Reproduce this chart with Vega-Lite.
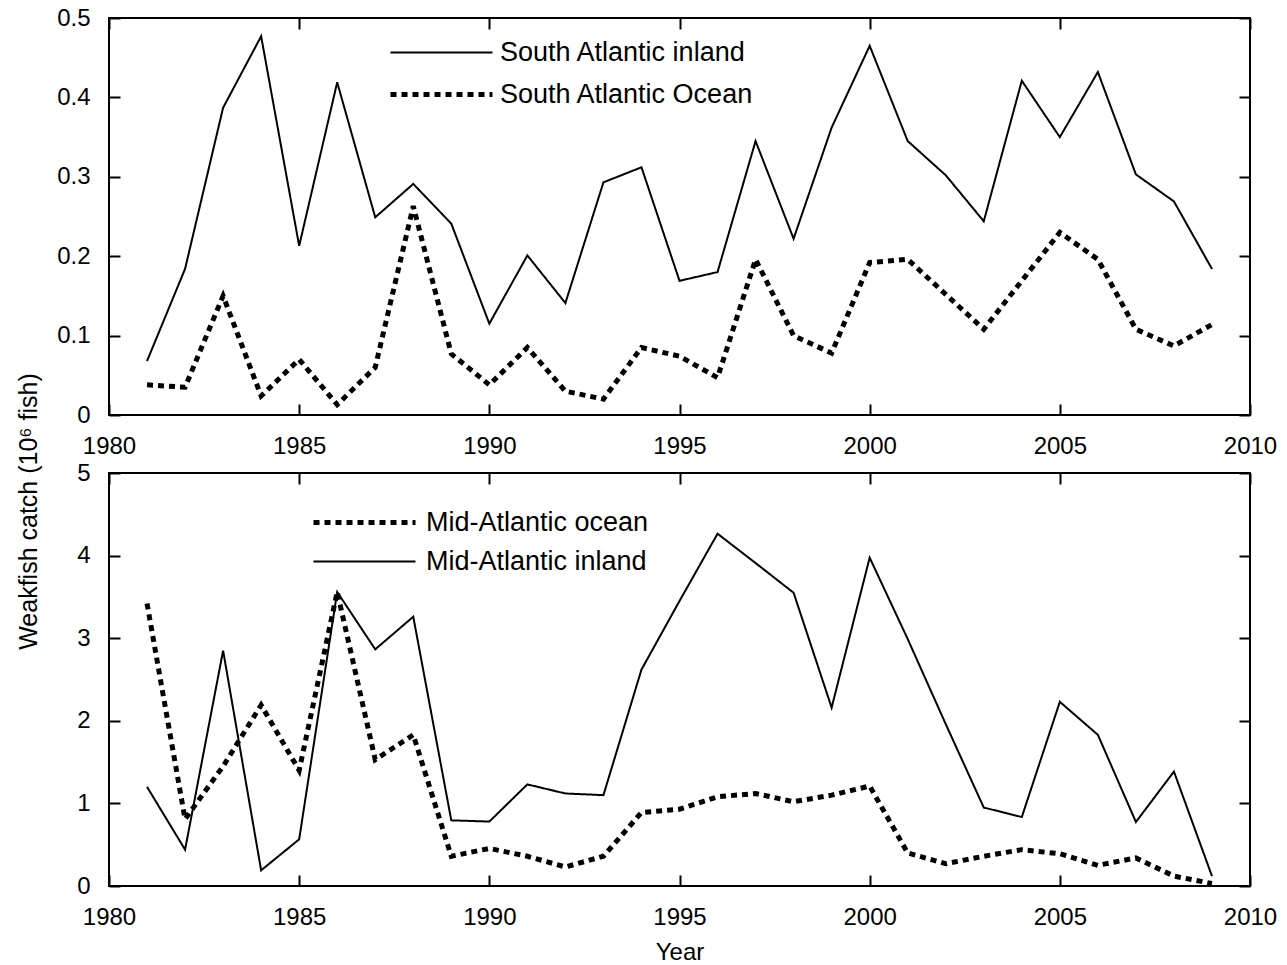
{
  "$schema": "https://vega.github.io/schema/vega-lite/v6.json",
  "padding": {"left": 15, "top": 5, "right": 5, "bottom": 5},
  "background": "white",
  "config": {
    "font": "Liberation Sans",
    "view": {"stroke": "black", "strokeWidth": 2},
    "axis": {
      "labelFont": "Liberation Sans", "labelFontSize": 24, "labelColor": "black",
      "titleFont": "Liberation Sans", "titleFontSize": 24, "titleFontWeight": "normal", "titleColor": "black",
      "tickColor": "black", "tickWidth": 2, "tickSize": -11, "domain": false, "grid": false,
      "labelPadding": 30, "labelFlush": false, "labelOverlap": false
    },
    "legend": {
      "labelFont": "Liberation Sans", "labelFontSize": 27, "labelColor": "black", "labelLimit": 0,
      "symbolType": "M-5,0H5", "symbolStrokeColor": "black", "symbolSize": 416,
      "padding": 0, "title": null, "orient": "none"
    }
  },
  "datasets": {
    "south": [
      {"year": 1981, "series": "South Atlantic inland", "catch": 0.068},
      {"year": 1982, "series": "South Atlantic inland", "catch": 0.184},
      {"year": 1983, "series": "South Atlantic inland", "catch": 0.387},
      {"year": 1984, "series": "South Atlantic inland", "catch": 0.477},
      {"year": 1985, "series": "South Atlantic inland", "catch": 0.213},
      {"year": 1986, "series": "South Atlantic inland", "catch": 0.419},
      {"year": 1987, "series": "South Atlantic inland", "catch": 0.249},
      {"year": 1988, "series": "South Atlantic inland", "catch": 0.291},
      {"year": 1989, "series": "South Atlantic inland", "catch": 0.241},
      {"year": 1990, "series": "South Atlantic inland", "catch": 0.115},
      {"year": 1991, "series": "South Atlantic inland", "catch": 0.201},
      {"year": 1992, "series": "South Atlantic inland", "catch": 0.141},
      {"year": 1993, "series": "South Atlantic inland", "catch": 0.293},
      {"year": 1994, "series": "South Atlantic inland", "catch": 0.312},
      {"year": 1995, "series": "South Atlantic inland", "catch": 0.169},
      {"year": 1996, "series": "South Atlantic inland", "catch": 0.180},
      {"year": 1997, "series": "South Atlantic inland", "catch": 0.345},
      {"year": 1998, "series": "South Atlantic inland", "catch": 0.222},
      {"year": 1999, "series": "South Atlantic inland", "catch": 0.362},
      {"year": 2000, "series": "South Atlantic inland", "catch": 0.465},
      {"year": 2001, "series": "South Atlantic inland", "catch": 0.345},
      {"year": 2002, "series": "South Atlantic inland", "catch": 0.302},
      {"year": 2003, "series": "South Atlantic inland", "catch": 0.244},
      {"year": 2004, "series": "South Atlantic inland", "catch": 0.421},
      {"year": 2005, "series": "South Atlantic inland", "catch": 0.350},
      {"year": 2006, "series": "South Atlantic inland", "catch": 0.432},
      {"year": 2007, "series": "South Atlantic inland", "catch": 0.303},
      {"year": 2008, "series": "South Atlantic inland", "catch": 0.269},
      {"year": 2009, "series": "South Atlantic inland", "catch": 0.184},
      {"year": 1981, "series": "South Atlantic Ocean", "catch": 0.038},
      {"year": 1982, "series": "South Atlantic Ocean", "catch": 0.035},
      {"year": 1983, "series": "South Atlantic Ocean", "catch": 0.150},
      {"year": 1984, "series": "South Atlantic Ocean", "catch": 0.024},
      {"year": 1985, "series": "South Atlantic Ocean", "catch": 0.070},
      {"year": 1986, "series": "South Atlantic Ocean", "catch": 0.013},
      {"year": 1987, "series": "South Atlantic Ocean", "catch": 0.060},
      {"year": 1988, "series": "South Atlantic Ocean", "catch": 0.263},
      {"year": 1989, "series": "South Atlantic Ocean", "catch": 0.077},
      {"year": 1990, "series": "South Atlantic Ocean", "catch": 0.038},
      {"year": 1991, "series": "South Atlantic Ocean", "catch": 0.085},
      {"year": 1992, "series": "South Atlantic Ocean", "catch": 0.030},
      {"year": 1993, "series": "South Atlantic Ocean", "catch": 0.020},
      {"year": 1994, "series": "South Atlantic Ocean", "catch": 0.085},
      {"year": 1995, "series": "South Atlantic Ocean", "catch": 0.074},
      {"year": 1996, "series": "South Atlantic Ocean", "catch": 0.047},
      {"year": 1997, "series": "South Atlantic Ocean", "catch": 0.196},
      {"year": 1998, "series": "South Atlantic Ocean", "catch": 0.100},
      {"year": 1999, "series": "South Atlantic Ocean", "catch": 0.078},
      {"year": 2000, "series": "South Atlantic Ocean", "catch": 0.192},
      {"year": 2001, "series": "South Atlantic Ocean", "catch": 0.196},
      {"year": 2002, "series": "South Atlantic Ocean", "catch": 0.152},
      {"year": 2003, "series": "South Atlantic Ocean", "catch": 0.108},
      {"year": 2004, "series": "South Atlantic Ocean", "catch": 0.169},
      {"year": 2005, "series": "South Atlantic Ocean", "catch": 0.230},
      {"year": 2006, "series": "South Atlantic Ocean", "catch": 0.196},
      {"year": 2007, "series": "South Atlantic Ocean", "catch": 0.108},
      {"year": 2008, "series": "South Atlantic Ocean", "catch": 0.087},
      {"year": 2009, "series": "South Atlantic Ocean", "catch": 0.114}
    ],
    "mid": [
      {"year": 1981, "series": "Mid-Atlantic ocean", "catch": 3.42},
      {"year": 1982, "series": "Mid-Atlantic ocean", "catch": 0.81},
      {"year": 1983, "series": "Mid-Atlantic ocean", "catch": 1.45},
      {"year": 1984, "series": "Mid-Atlantic ocean", "catch": 2.19},
      {"year": 1985, "series": "Mid-Atlantic ocean", "catch": 1.40},
      {"year": 1986, "series": "Mid-Atlantic ocean", "catch": 3.56},
      {"year": 1987, "series": "Mid-Atlantic ocean", "catch": 1.53},
      {"year": 1988, "series": "Mid-Atlantic ocean", "catch": 1.83},
      {"year": 1989, "series": "Mid-Atlantic ocean", "catch": 0.36},
      {"year": 1990, "series": "Mid-Atlantic ocean", "catch": 0.455},
      {"year": 1991, "series": "Mid-Atlantic ocean", "catch": 0.36},
      {"year": 1992, "series": "Mid-Atlantic ocean", "catch": 0.23},
      {"year": 1993, "series": "Mid-Atlantic ocean", "catch": 0.36},
      {"year": 1994, "series": "Mid-Atlantic ocean", "catch": 0.89},
      {"year": 1995, "series": "Mid-Atlantic ocean", "catch": 0.93},
      {"year": 1996, "series": "Mid-Atlantic ocean", "catch": 1.08},
      {"year": 1997, "series": "Mid-Atlantic ocean", "catch": 1.12},
      {"year": 1998, "series": "Mid-Atlantic ocean", "catch": 1.02},
      {"year": 1999, "series": "Mid-Atlantic ocean", "catch": 1.10},
      {"year": 2000, "series": "Mid-Atlantic ocean", "catch": 1.21},
      {"year": 2001, "series": "Mid-Atlantic ocean", "catch": 0.40},
      {"year": 2002, "series": "Mid-Atlantic ocean", "catch": 0.27},
      {"year": 2003, "series": "Mid-Atlantic ocean", "catch": 0.36},
      {"year": 2004, "series": "Mid-Atlantic ocean", "catch": 0.44},
      {"year": 2005, "series": "Mid-Atlantic ocean", "catch": 0.39},
      {"year": 2006, "series": "Mid-Atlantic ocean", "catch": 0.25},
      {"year": 2007, "series": "Mid-Atlantic ocean", "catch": 0.34},
      {"year": 2008, "series": "Mid-Atlantic ocean", "catch": 0.12},
      {"year": 2009, "series": "Mid-Atlantic ocean", "catch": 0.03},
      {"year": 1981, "series": "Mid-Atlantic inland", "catch": 1.20},
      {"year": 1982, "series": "Mid-Atlantic inland", "catch": 0.44},
      {"year": 1983, "series": "Mid-Atlantic inland", "catch": 2.85},
      {"year": 1984, "series": "Mid-Atlantic inland", "catch": 0.19},
      {"year": 1985, "series": "Mid-Atlantic inland", "catch": 0.565},
      {"year": 1986, "series": "Mid-Atlantic inland", "catch": 3.56},
      {"year": 1987, "series": "Mid-Atlantic inland", "catch": 2.865},
      {"year": 1988, "series": "Mid-Atlantic inland", "catch": 3.26},
      {"year": 1989, "series": "Mid-Atlantic inland", "catch": 0.795},
      {"year": 1990, "series": "Mid-Atlantic inland", "catch": 0.78},
      {"year": 1991, "series": "Mid-Atlantic inland", "catch": 1.23},
      {"year": 1992, "series": "Mid-Atlantic inland", "catch": 1.12},
      {"year": 1993, "series": "Mid-Atlantic inland", "catch": 1.10},
      {"year": 1994, "series": "Mid-Atlantic inland", "catch": 2.62},
      {"year": 1995, "series": "Mid-Atlantic inland", "catch": 3.45},
      {"year": 1996, "series": "Mid-Atlantic inland", "catch": 4.265},
      {"year": 1997, "series": "Mid-Atlantic inland", "catch": 3.91},
      {"year": 1998, "series": "Mid-Atlantic inland", "catch": 3.55},
      {"year": 1999, "series": "Mid-Atlantic inland", "catch": 2.16},
      {"year": 2000, "series": "Mid-Atlantic inland", "catch": 3.975},
      {"year": 2001, "series": "Mid-Atlantic inland", "catch": 2.99},
      {"year": 2002, "series": "Mid-Atlantic inland", "catch": 1.96},
      {"year": 2003, "series": "Mid-Atlantic inland", "catch": 0.95},
      {"year": 2004, "series": "Mid-Atlantic inland", "catch": 0.835},
      {"year": 2005, "series": "Mid-Atlantic inland", "catch": 2.23},
      {"year": 2006, "series": "Mid-Atlantic inland", "catch": 1.83},
      {"year": 2007, "series": "Mid-Atlantic inland", "catch": 0.775},
      {"year": 2008, "series": "Mid-Atlantic inland", "catch": 1.385},
      {"year": 2009, "series": "Mid-Atlantic inland", "catch": 0.12}
    ]
  },
  "bounds": "flush",
  "spacing": 58,
  "resolve": {
    "scale": {"strokeDash": "independent", "strokeWidth": "independent"},
    "legend": {"strokeDash": "independent", "strokeWidth": "independent"}
  },
  "vconcat": [
    {
      "width": 1141,
      "height": 397,
      "data": {"name": "south"},
      "layer": [
        {
          "mark": {"type": "line", "color": "black", "strokeCap": "butt"},
          "encoding": {
            "x": {"field": "year", "type": "quantitative", "scale": {"domain": [1980, 2010]},
                  "axis": {"values": [1980, 1985, 1990, 1995, 2000, 2005, 2010], "format": "d", "title": null}},
            "y": {"field": "catch", "type": "quantitative", "scale": {"domain": [0, 0.5]},
                  "axis": {"values": [0, 0.1, 0.2, 0.3, 0.4, 0.5], "labelExpr": "datum.value == 0 ? '0' : format(datum.value, '.1f')",
                           "title": "Weakfish catch (10⁶ fish)", "titleFontSize": 25, "titleX": -81, "titleY": 493, "titleAngle": -90, "titleAlign": "center", "titleBaseline": "middle"}},
            "strokeDash": {"field": "series", "type": "nominal",
                           "scale": {"domain": ["South Atlantic inland", "South Atlantic Ocean"], "range": [[1, 0], [6, 5]]},
                           "legend": {"legendX": 319, "legendY": 21, "rowPadding": 14, "labelOffset": 45}},
            "strokeWidth": {"field": "series", "type": "nominal",
                            "scale": {"domain": ["South Atlantic inland", "South Atlantic Ocean"], "range": [2, 5]},
                            "legend": {"legendX": 319, "legendY": 21, "rowPadding": 14, "labelOffset": 45}}
          }
        },
        {
          "mark": {"type": "line", "opacity": 0},
          "encoding": {
            "x": {"field": "year", "type": "quantitative", "scale": {"domain": [1980, 2010]},
                  "axis": {"orient": "top", "values": [1980, 1985, 1990, 1995, 2000, 2005, 2010], "labels": false, "title": null}},
            "y": {"field": "catch", "type": "quantitative", "scale": {"domain": [0, 0.5]},
                  "axis": {"orient": "right", "values": [0, 0.1, 0.2, 0.3, 0.4, 0.5], "labels": false, "title": null}}
          }
        }
      ],
      "resolve": {"axis": {"x": "independent", "y": "independent"}}
    },
    {
      "width": 1141,
      "height": 413,
      "data": {"name": "mid"},
      "layer": [
        {
          "mark": {"type": "line", "color": "black", "strokeCap": "butt"},
          "encoding": {
            "x": {"field": "year", "type": "quantitative", "scale": {"domain": [1980, 2010]},
                  "axis": {"values": [1980, 1985, 1990, 1995, 2000, 2005, 2010], "format": "d", "title": "Year", "titleY": 66, "titleBaseline": "middle"}},
            "y": {"field": "catch", "type": "quantitative", "scale": {"domain": [0, 5]},
                  "axis": {"values": [0, 1, 2, 3, 4, 5], "format": "d", "title": null}},
            "strokeDash": {"field": "series", "type": "nominal",
                           "scale": {"domain": ["Mid-Atlantic ocean", "Mid-Atlantic inland"], "range": [[6, 5], [1, 0]]},
                           "legend": {"legendX": 242, "legendY": 36, "rowPadding": 11, "labelOffset": 48}},
            "strokeWidth": {"field": "series", "type": "nominal",
                            "scale": {"domain": ["Mid-Atlantic ocean", "Mid-Atlantic inland"], "range": [5, 2]},
                            "legend": {"legendX": 242, "legendY": 36, "rowPadding": 11, "labelOffset": 48}}
          }
        },
        {
          "mark": {"type": "line", "opacity": 0},
          "encoding": {
            "x": {"field": "year", "type": "quantitative", "scale": {"domain": [1980, 2010]},
                  "axis": {"orient": "top", "values": [1980, 1985, 1990, 1995, 2000, 2005, 2010], "labels": false, "title": null}},
            "y": {"field": "catch", "type": "quantitative", "scale": {"domain": [0, 5]},
                  "axis": {"orient": "right", "values": [0, 1, 2, 3, 4, 5], "labels": false, "title": null}}
          }
        }
      ],
      "resolve": {"axis": {"x": "independent", "y": "independent"}}
    }
  ]
}
